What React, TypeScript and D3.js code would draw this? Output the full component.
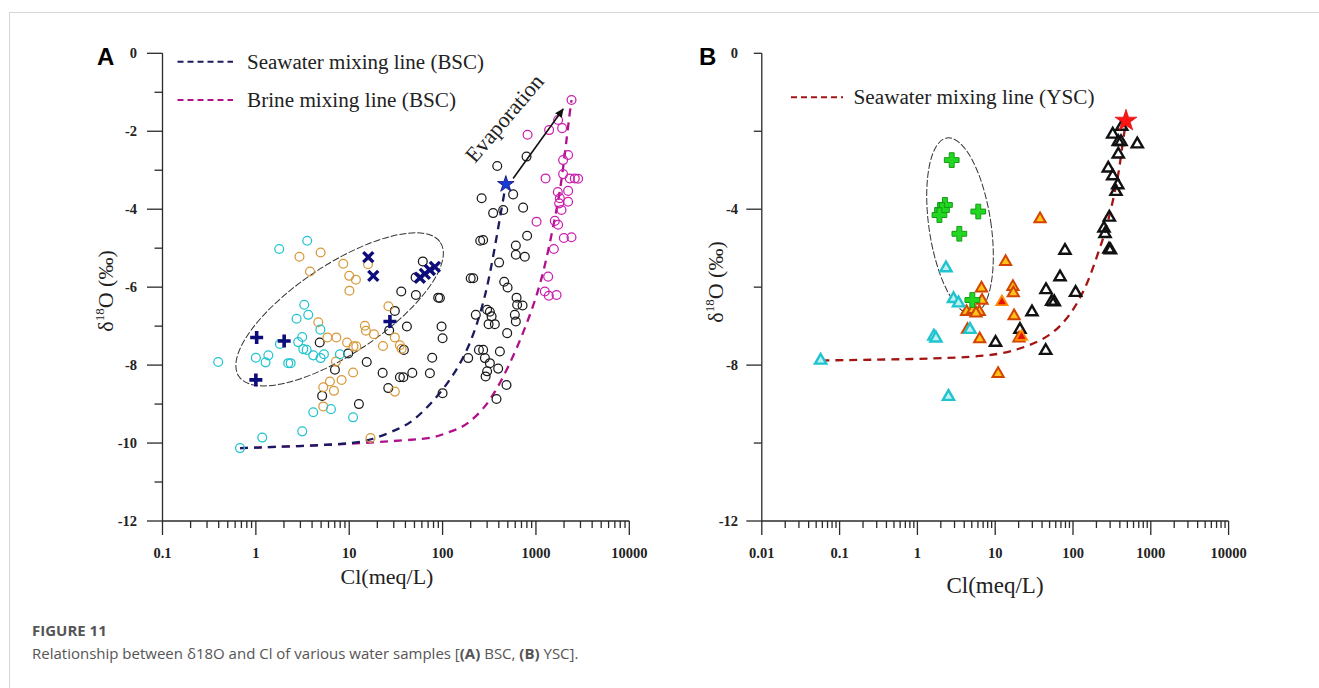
import React from "react";
import * as d3 from "d3";

type P = [number, number];

const W = 1319;
const H = 688;

// ---------- Panel A (BSC): [Cl meq/L, δ18O ‰] ----------
const aCyan: P[] = [
  [3.55, -4.81], [1.78, -5.02], [3.3, -6.45], [3.64, -6.71], [2.73, -6.81], [4.91, -7.09],
  [3.14, -7.28], [2.84, -7.41], [3.22, -7.59], [3.5, -7.61], [4.12, -7.75], [4.94, -7.82],
  [5.36, -7.72], [7.95, -7.72], [1.81, -7.46], [1.36, -7.75], [1.0, -7.81], [1.27, -7.93],
  [2.22, -7.95], [2.36, -7.95], [0.395, -7.92], [4.12, -9.21], [6.37, -9.13], [11.0, -9.34],
  [1.17, -9.86], [3.14, -9.7], [0.676, -10.13],
];
const aOrange: P[] = [
  [2.93, -5.22], [4.94, -5.11], [3.8, -5.6], [8.63, -5.4], [10.0, -5.71], [11.8, -5.81],
  [10.05, -6.09], [15.9, -5.41], [4.66, -6.9], [5.84, -7.29], [7.28, -7.29], [9.47, -7.42],
  [11.1, -7.52], [11.9, -7.52], [14.7, -6.99], [15.1, -7.12], [18.4, -7.21], [26.3, -6.49],
  [30.8, -7.29], [23.0, -7.51], [34.9, -7.49], [36.4, -7.58], [7.21, -7.91], [11.0, -8.19],
  [8.29, -8.38], [6.21, -8.42], [5.27, -8.57], [6.86, -8.66], [5.27, -9.06], [30.8, -8.68],
  [16.9, -9.87],
];
const aBlack: P[] = [
  [61.4, -5.34], [51.4, -5.75], [36.1, -6.11], [51.8, -6.2], [30.8, -6.61], [41.5, -7.01],
  [26.8, -7.11], [4.83, -7.42], [9.75, -7.7], [38.5, -7.61], [15.4, -7.92], [7.03, -8.12],
  [22.8, -8.2], [34.9, -8.31], [38.0, -8.31], [47.4, -8.2], [26.2, -8.59], [5.13, -8.79],
  [12.7, -9.0], [385, -2.89], [570, -3.62], [262, -3.72], [446, -4.02], [348, -4.1],
  [729, -3.96], [793, -2.65], [272, -4.79], [253, -4.81], [403, -5.37], [609, -4.93],
  [609, -5.17], [760, -5.22], [805, -4.68], [200, -5.77], [213, -5.77], [457, -5.86],
  [497, -6.01], [620, -6.27], [629, -6.45], [719, -6.47], [300, -6.58], [321, -6.63],
  [335, -6.75], [311, -6.95], [363, -6.95], [227, -6.71], [594, -6.71], [609, -6.88],
  [492, -7.18], [97.5, -7.01], [100, -7.31], [89.7, -6.27], [93.6, -6.28], [245, -7.61],
  [272, -7.61], [411, -7.65], [188, -7.82], [284, -7.82], [321, -7.95], [394, -8.09],
  [300, -8.16], [289, -8.29], [77.4, -7.81], [73.1, -8.21], [484, -8.51], [378, -8.87],
  [100, -8.72],
];
const aMagenta: P[] = [
  [2405, -1.2], [813, -2.09], [1384, -1.97], [1729, -1.71], [1908, -1.92], [1955, -2.74],
  [2212, -2.61], [1268, -3.21], [1955, -3.1], [2307, -3.21], [2608, -3.21], [2830, -3.22],
  [1715, -3.56], [1803, -3.72], [1772, -3.85], [1879, -4.02], [2212, -3.53], [2212, -3.81],
  [1015, -4.32], [1593, -4.3], [1729, -4.4], [1990, -4.74], [2405, -4.72], [1556, -5.02],
  [1352, -5.73], [1245, -6.11], [1374, -6.22], [1663, -6.2],
];
const aPlus: P[] = [[1.02, -7.29], [2.01, -7.38], [1.0, -8.38], [27.3, -6.88]];
const aCross: P[] = [[16.0, -5.23], [18.1, -5.71], [57.1, -5.76], [64.6, -5.66], [73.1, -5.56], [82.7, -5.48]];
const aStar: P[] = [[476, -3.36]];
const aSeawaterLine: P[] = [
  [0.676, -10.13], [9.4, -10.04], [17.9, -9.92], [34.8, -9.62], [48.4, -9.45], [97.5, -8.72],
  [180.7, -7.74], [261.8, -6.6], [320.9, -5.7], [393.8, -4.49], [476, -3.36],
];
const aBrineLine: P[] = [
  [0.676, -10.13], [7.9, -10.04], [46.2, -9.92], [79, -9.87], [111, -9.74], [153, -9.62],
  [189, -9.49], [280, -9.12], [410, -8.5], [619, -7.6], [897, -6.63], [1194, -5.68],
  [1468, -4.66], [1804, -3.6], [2039, -2.6], [2306, -1.5], [2405, -1.2],
];
const aArrow: P[] = [[570, -3.21], [1955, -1.43]];

// ---------- Panel B (YSC) ----------
const bGreen: P[] = [[2.76, -2.74], [2.26, -3.89], [2.07, -4.02], [1.92, -4.15], [6.06, -4.06], [3.46, -4.63], [5.08, -6.33]];
const bCyan: P[] = [[2.33, -5.51], [2.91, -6.3], [3.38, -6.41], [1.63, -7.26], [1.73, -7.31], [4.74, -7.09], [0.0571, -7.88], [2.51, -8.81]];
const bOrange: P[] = [
  [6.67, -6.03], [6.77, -6.34], [4.28, -6.63], [5.18, -6.58], [6.25, -6.63], [5.66, -6.67],
  [4.41, -7.09], [6.32, -7.33], [10.9, -8.22], [37.7, -4.25], [13.6, -5.35], [16.9, -5.99],
  [17.1, -6.15], [17.5, -6.74], [20.2, -7.31],
];
const bRed: P[] = [[12.2, -6.38], [21.8, -7.27]];
const bBlack: P[] = [
  [423, -1.88], [324, -2.08], [382, -2.27], [414, -2.27], [670, -2.33], [382, -2.59],
  [284, -2.95], [324, -3.15], [376, -3.38], [357, -3.55], [293, -4.21], [250, -4.49],
  [258, -4.63], [290, -5.03], [303, -5.05], [78.9, -5.06], [68.1, -5.74], [45.0, -6.07],
  [108, -6.14], [53.2, -6.37], [57.5, -6.38], [29.7, -6.64], [20.8, -7.09], [10.1, -7.42],
  [44.6, -7.63],
];
const bStar: P[] = [[480, -1.73]];
const bSeawaterLine: P[] = [
  [0.0583, -7.88], [0.912, -7.85], [9.46, -7.78], [23.0, -7.56], [50.6, -7.27], [91.5, -6.75],
  [150, -5.98], [202, -5.22], [258, -4.62], [314, -3.93], [382, -3.16], [423, -2.48], [480, -1.73],
];

const xTicksA = [0.1, 1, 10, 100, 1000, 10000];
const xTickLabelsA = ["0.1", "1", "10", "100", "1000", "10000"];
const xTicksB = [0.01, 0.1, 1, 10, 100, 1000, 10000];
const xTickLabelsB = ["0.01", "0.1", "1", "10", "100", "1000", "10000"];
const yTicksAll = [0, -1, -2, -3, -4, -5, -6, -7, -8, -9, -10, -11, -12];
const yLabelsA = [0, -2, -4, -6, -8, -10, -12];
const yTicksB = [0, -2, -4, -6, -8, -10, -12];
const yLabelsB = [0, -4, -8, -12];

const serif = "'Liberation Serif', 'Times New Roman', serif";
const sans = "'Liberation Sans', Arial, sans-serif";
const capFont = "'Open Sans', 'Noto Sans', sans-serif";

const C_CYAN = "#1fc4cf";
const C_ORANGE = "#d8983a";
const C_BLACK = "#1a1a1a";
const C_MAG = "#cc1fae";
const C_NAVY = "#0c0c7a";

function minorTicks(lo: number, hi: number): number[] {
  const out: number[] = [];
  for (let d = lo; d < hi * 0.999; d *= 10) for (let k = 2; k <= 9; k++) out.push(k * d);
  return out;
}

function Axes({ x, y, xt, xl, yTicks, yLabels, yLong, labelX }: any) {
  const [x0, x1] = x.range();
  const [y0, y1] = y.range();
  const ax = "#2a2a2a";
  const d0 = x.domain()[0], d1 = x.domain()[1];
  return (
    <g>
      <line x1={x0} x2={x0} y1={y0} y2={y1} stroke={ax} strokeWidth={1.3} />
      <line x1={x0} x2={x1} y1={y1} y2={y1} stroke={ax} strokeWidth={1.3} />
      {yTicks.map((v: number) => {
        const len = yLong(v) ? 15.5 : 8;
        return <line key={"yt" + v} x1={x0 - len} x2={x0} y1={y(v)} y2={y(v)} stroke={ax} strokeWidth={1.3} />;
      })}
      {yLabels.map((v: number) => (
        <text key={"yl" + v} x={labelX} y={y(v)} dy="0.35em" textAnchor="end" fontFamily={serif}
          fontWeight="bold" fontSize={14.5} fill="#222">{v === 0 ? "0" : "-" + Math.abs(v)}</text>
      ))}
      {xt.map((v: number, i: number) => (
        <g key={"xt" + v}>
          <line x1={x(v)} x2={x(v)} y1={y1} y2={y1 + 14} stroke={ax} strokeWidth={1.3} />
          <text x={x(v)} y={y1 + 37} textAnchor="middle" fontFamily={serif} fontWeight="bold"
            fontSize={14.5} fill="#222">{xl[i]}</text>
        </g>
      ))}
      {minorTicks(d0, d1).map((v) => (
        <line key={"mt" + v} x1={x(v)} x2={x(v)} y1={y1} y2={y1 + 7} stroke={ax} strokeWidth={1.3} />
      ))}
    </g>
  );
}

function YTitle({ x, y }: { x: number; y: number }) {
  return (
    <text transform={`translate(${x},${y}) rotate(-90)`} textAnchor="middle" fontFamily={serif}
      fontSize={22} fill="#222">
      <tspan>δ</tspan>
      <tspan fontSize={13} dy={-9}>18</tspan>
      <tspan dy={9}>O (‰)</tspan>
    </text>
  );
}

export default function App() {
  const xA = d3.scaleLog().domain([0.1, 10000]).range([162.5, 629.3]);
  const yA = d3.scaleLinear().domain([0, -12]).range([53.3, 521]);
  const xB = d3.scaleLog().domain([0.01, 10000]).range([761.8, 1228.6]);
  const yB = d3.scaleLinear().domain([0, -12]).range([53.3, 521]);

  const lineA = d3.line<P>().x((d) => xA(d[0])).y((d) => yA(d[1])).curve(d3.curveBasis);
  const lineB = d3.line<P>().x((d) => xB(d[0])).y((d) => yB(d[1])).curve(d3.curveBasis);

  const tri = d3.symbol(d3.symbolTriangle, 54)() as string;
  const crossFill = d3.symbol(d3.symbolCross, 120)() as string;
  const starA = d3.symbol(d3.symbolStar, 85)() as string;
  const starB = d3.symbol(d3.symbolStar, 150)() as string;

  const circles = (pts: P[], color: string, key: string) =>
    pts.map((d, i) => (
      <circle key={key + i} cx={xA(d[0])} cy={yA(d[1])} r={4.4} fill="none" stroke={color} strokeWidth={1.25} />
    ));
  const tris = (pts: P[], fill: string, stroke: string, sw: number, key: string) =>
    pts.map((d, i) => (
      <path key={key + i} d={tri} transform={`translate(${xB(d[0])},${yB(d[1])})`} fill={fill}
        stroke={stroke} strokeWidth={sw} strokeLinejoin="miter" />
    ));

  const ellA = { cx: xA(7.89), cy: yA(-6.57) };
  const ellB = { cx: xB(3.53), cy: yB(-4.43) };

  return (
    <svg width={W} height={H} viewBox={`0 0 ${W} ${H}`}
      style={{ position: "absolute", left: 0, top: 0, background: "#fff" }}>
      <defs>
        <marker id="arrowHead" viewBox="0 0 10 10" refX={9} refY={5} markerWidth={9} markerHeight={9}
          markerUnits="userSpaceOnUse" orient="auto">
          <path d="M0,0.5 L10,5 L0,9.5 Z" fill="#111" />
        </marker>
      </defs>
      {/* card frame */}
      <rect x={9.5} y={12.5} width={1400} height={800} fill="none" stroke="#d6d6d6" strokeWidth={1} />

      {/* ===== Panel A ===== */}
      <text x={97} y={65} fontFamily={sans} fontWeight="bold" fontSize={24} fill="#000">A</text>
      <Axes x={xA} y={yA} xt={xTicksA} xl={xTickLabelsA} yTicks={yTicksAll} yLabels={yLabelsA}
        yLong={(v: number) => v % 2 === 0} labelX={137} />
      <YTitle x={113} y={291} />
      <text x={387} y={584} textAnchor="middle" fontFamily={serif} fontSize={22} fill="#222">Cl(meq/L)</text>

      {/* legend A */}
      <line x1={177.5} x2={233} y1={61.7} y2={61.7} stroke="#1a1a5e" strokeWidth={2} strokeDasharray="6,4" />
      <text x={247} y={68.5} fontFamily={serif} fontSize={20} fill="#222" textLength={237}
        lengthAdjust="spacingAndGlyphs">Seawater mixing line (BSC)</text>
      <line x1={177.5} x2={233} y1={100} y2={100} stroke="#b0108a" strokeWidth={2} strokeDasharray="6,4" />
      <text x={247} y={107} fontFamily={serif} fontSize={20} fill="#222" textLength={209}
        lengthAdjust="spacingAndGlyphs">Brine mixing line (BSC)</text>

      {/* ellipse A */}
      <ellipse cx={ellA.cx} cy={ellA.cy} rx={121} ry={44.6} transform={`rotate(-33.6 ${ellA.cx} ${ellA.cy})`}
        fill="none" stroke="#333" strokeWidth={1} strokeDasharray="7,2" />

      {/* mixing lines A */}
      <path d={lineA(aBrineLine) as string} fill="none" stroke="#b0108a" strokeWidth={2.3} strokeDasharray="8,6" />
      <path d={lineA(aSeawaterLine) as string} fill="none" stroke="#1a1a5e" strokeWidth={2.3} strokeDasharray="8,6" />

      {circles(aBlack, C_BLACK, "ab")}
      {circles(aOrange, C_ORANGE, "ao")}
      {circles(aCyan, C_CYAN, "ac")}
      {circles(aMagenta, C_MAG, "am")}
      {aPlus.map((d, i) => (
        <path key={"ap" + i} d="M-6.5,0H6.5M0,-6.5V6.5" transform={`translate(${xA(d[0])},${yA(d[1])})`}
          stroke={C_NAVY} strokeWidth={3.6} fill="none" />
      ))}
      {aCross.map((d, i) => (
        <path key={"ax" + i} d="M-5,-5L5,5M-5,5L5,-5" transform={`translate(${xA(d[0])},${yA(d[1])})`}
          stroke={C_NAVY} strokeWidth={3.4} fill="none" />
      ))}
      {aStar.map((d, i) => (
        <path key={"as" + i} d={starA} transform={`translate(${xA(d[0])},${yA(d[1])})`} fill="#1b3bd6" stroke="#0c0c7a" strokeWidth={0.8} />
      ))}

      {/* evaporation arrow */}
      <line x1={xA(aArrow[0][0])} y1={yA(aArrow[0][1])} x2={xA(aArrow[1][0])} y2={yA(aArrow[1][1])}
        stroke="#111" strokeWidth={1.6} markerEnd="url(#arrowHead)" />
      <text transform="translate(510,123) rotate(-49.5)" textAnchor="middle" fontFamily={serif} fontSize={22}
        fill="#222">Evaporation</text>

      {/* ===== Panel B ===== */}
      <text x={699} y={65} fontFamily={sans} fontWeight="bold" fontSize={24} fill="#000">B</text>
      <Axes x={xB} y={yB} xt={xTicksB} xl={xTickLabelsB} yTicks={yTicksB} yLabels={yLabelsB}
        yLong={(v: number) => v === -4 || v === -8 || v === -12} labelX={738} />
      <YTitle x={723} y={282} />
      <text x={995} y={593} textAnchor="middle" fontFamily={serif} fontSize={23} fill="#222">Cl(meq/L)</text>

      {/* legend B */}
      <line x1={791} x2={843} y1={97.3} y2={97.3} stroke="#a31515" strokeWidth={2} strokeDasharray="6,4" />
      <text x={853.5} y={104} fontFamily={serif} fontSize={20} fill="#222" textLength={241}
        lengthAdjust="spacingAndGlyphs">Seawater mixing line (YSC)</text>

      <ellipse cx={ellB.cx} cy={ellB.cy} rx={31} ry={89} transform={`rotate(-8.4 ${ellB.cx} ${ellB.cy})`}
        fill="none" stroke="#333" strokeWidth={1} strokeDasharray="7,2" />

      <path d={lineB(bSeawaterLine) as string} fill="none" stroke="#a31515" strokeWidth={2.3} strokeDasharray="8,6" />

      {tris(bBlack, "none", "#111", 2.4, "bb")}
      {tris(bOrange, "#ffc21a", "#d24400", 2, "bo")}
      {tris(bRed, "#e3140c", "#ff8a00", 1.8, "br")}
      {tris(bCyan, "#bff1f3", C_CYAN, 2.4, "bc")}
      {bGreen.map((d, i) => (
        <path key={"bg" + i} d={crossFill} transform={`translate(${xB(d[0])},${yB(d[1])})`} fill="#22d622"
          stroke="#159a15" strokeWidth={1} />
      ))}
      {bStar.map((d, i) => (
        <path key={"bs" + i} d={starB} transform={`translate(${xB(d[0])},${yB(d[1])})`} fill="#ff1414" stroke="#d00000" strokeWidth={0.6} />
      ))}

      {/* caption */}
      <text x={32} y={636} fontFamily={capFont} fontWeight="bold" fontSize={15} fill="#555">FIGURE 11</text>
      <text x={32} y={659} fontFamily={capFont} fontSize={15} fill="#555">
        Relationship between δ18O and Cl of various water samples [<tspan fontWeight="bold">(A)</tspan> BSC,{" "}
        <tspan fontWeight="bold">(B)</tspan> YSC].
      </text>
    </svg>
  );
}
